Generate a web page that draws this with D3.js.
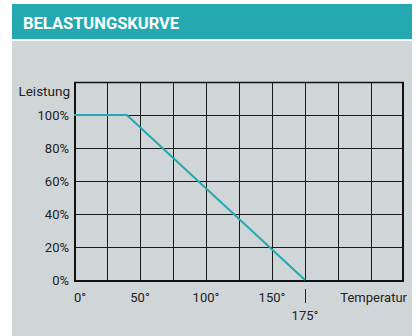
<!DOCTYPE html>
<html><head><meta charset="utf-8">
<script src="https://cdn.jsdelivr.net/npm/d3@7"></script>
<style>html,body{margin:0;padding:0;background:#fff;}svg{display:block;}</style>
</head><body>
<script>
const title = "BELASTUNGSKURVE";
const yLabel = "Leistung";
const xLabel = "Temperatur";
const curveTemp = [0, 40, 175];
const curveLoad = [100, 100, 0];
const yTicks = [0, 20, 40, 60, 80, 100];
const xTicks = [0, 50, 100, 150];
const xGrid = [25, 50, 75, 100, 125, 150, 175, 200, 225];
const yGrid = [20, 40, 60, 80, 100];
const markTemp = 175;

const W = 417, H = 336;
const svg = d3.select("body").append("svg").attr("width", W).attr("height", H);
const teal = "#25a9b0";
svg.append("rect").attr("x", 12).attr("y", 4).attr("width", 400).attr("height", 35).attr("fill", teal);
svg.append("text").attr("x", 23).attr("y", 29).text(title)
  .attr("fill", "#fff").attr("font-family", "Roboto").attr("font-weight", "bold").attr("font-size", 16.5);
svg.append("rect").attr("x", 12).attr("y", 41).attr("width", 400).attr("height", 295).attr("fill", "#d0d5d8");

const x = d3.scaleLinear().domain([0, 250]).range([74, 404]);
const y = d3.scaleLinear().domain([0, 120]).range([280, 82]);
const g = svg.append("g");
const font = "Roboto";

g.selectAll(".vg").data(xGrid).join("line")
  .attr("x1", d => Math.round(x(d)) + 0.5).attr("x2", d => Math.round(x(d)) + 0.5)
  .attr("y1", y(120)).attr("y2", y(0)).attr("stroke", "#1a1a1a").attr("stroke-width", 1);
g.selectAll(".hg").data(yGrid).join("line")
  .attr("y1", d => Math.round(y(d)) + 0.5).attr("y2", d => Math.round(y(d)) + 0.5)
  .attr("x1", x(0)).attr("x2", x(250)).attr("stroke", "#1a1a1a").attr("stroke-width", 1);
// frame
g.append("line").attr("x1", x(0)).attr("x2", x(250)).attr("y1", y(120) + 0.5).attr("y2", y(120) + 0.5).attr("stroke", "#111").attr("stroke-width", 1.5);
g.append("line").attr("x1", x(0) + 1).attr("x2", x(0) + 1).attr("y1", y(120)).attr("y2", y(0) + 2).attr("stroke", "#111").attr("stroke-width", 2);
g.append("line").attr("x1", x(250) - 1).attr("x2", x(250) - 1).attr("y1", y(120)).attr("y2", y(0) + 2).attr("stroke", "#111").attr("stroke-width", 2);
g.append("line").attr("x1", x(0)).attr("x2", x(250)).attr("y1", y(0) + 1).attr("y2", y(0) + 1).attr("stroke", "#111").attr("stroke-width", 2);

const line = d3.line().x(d => x(d[0])).y(d => y(d[1]));
g.append("path").datum(curveTemp.map((t, i) => [t, curveLoad[i]]))
  .attr("d", line).attr("fill", "none").attr("stroke", teal).attr("stroke-width", 2);

g.selectAll(".yl").data(yTicks).join("text")
  .attr("x", 69).attr("y", d => y(d) + 5).attr("text-anchor", "end")
  .attr("font-family", font).attr("font-size", 13).attr("fill", "#222").text(d => d + "%");
g.append("text").attr("x", 70).attr("y", 96).attr("text-anchor", "end")
  .attr("font-family", font).attr("font-size", 13.5).attr("fill", "#222").text(yLabel);

g.selectAll(".xl").data(xTicks).join("text")
  .attr("x", d => d === 0 ? x(d) : x(d)).attr("y", 302)
  .attr("text-anchor", d => d === 0 ? "start" : "middle")
  .attr("font-family", font).attr("font-size", 13).attr("fill", "#222").text(d => d + "°");
g.append("line").attr("x1", Math.round(x(markTemp)) + 0.5).attr("x2", Math.round(x(markTemp)) + 0.5)
  .attr("y1", 289).attr("y2", 303).attr("stroke", "#222").attr("stroke-width", 1);
g.append("text").attr("x", x(markTemp)).attr("y", 320).attr("text-anchor", "middle")
  .attr("font-family", font).attr("font-size", 13).attr("fill", "#222").text(markTemp + "°");
g.append("text").attr("x", 407).attr("y", 302).attr("text-anchor", "end")
  .attr("font-family", font).attr("font-size", 13).attr("fill", "#222").text(xLabel);
</script>
</body></html>
